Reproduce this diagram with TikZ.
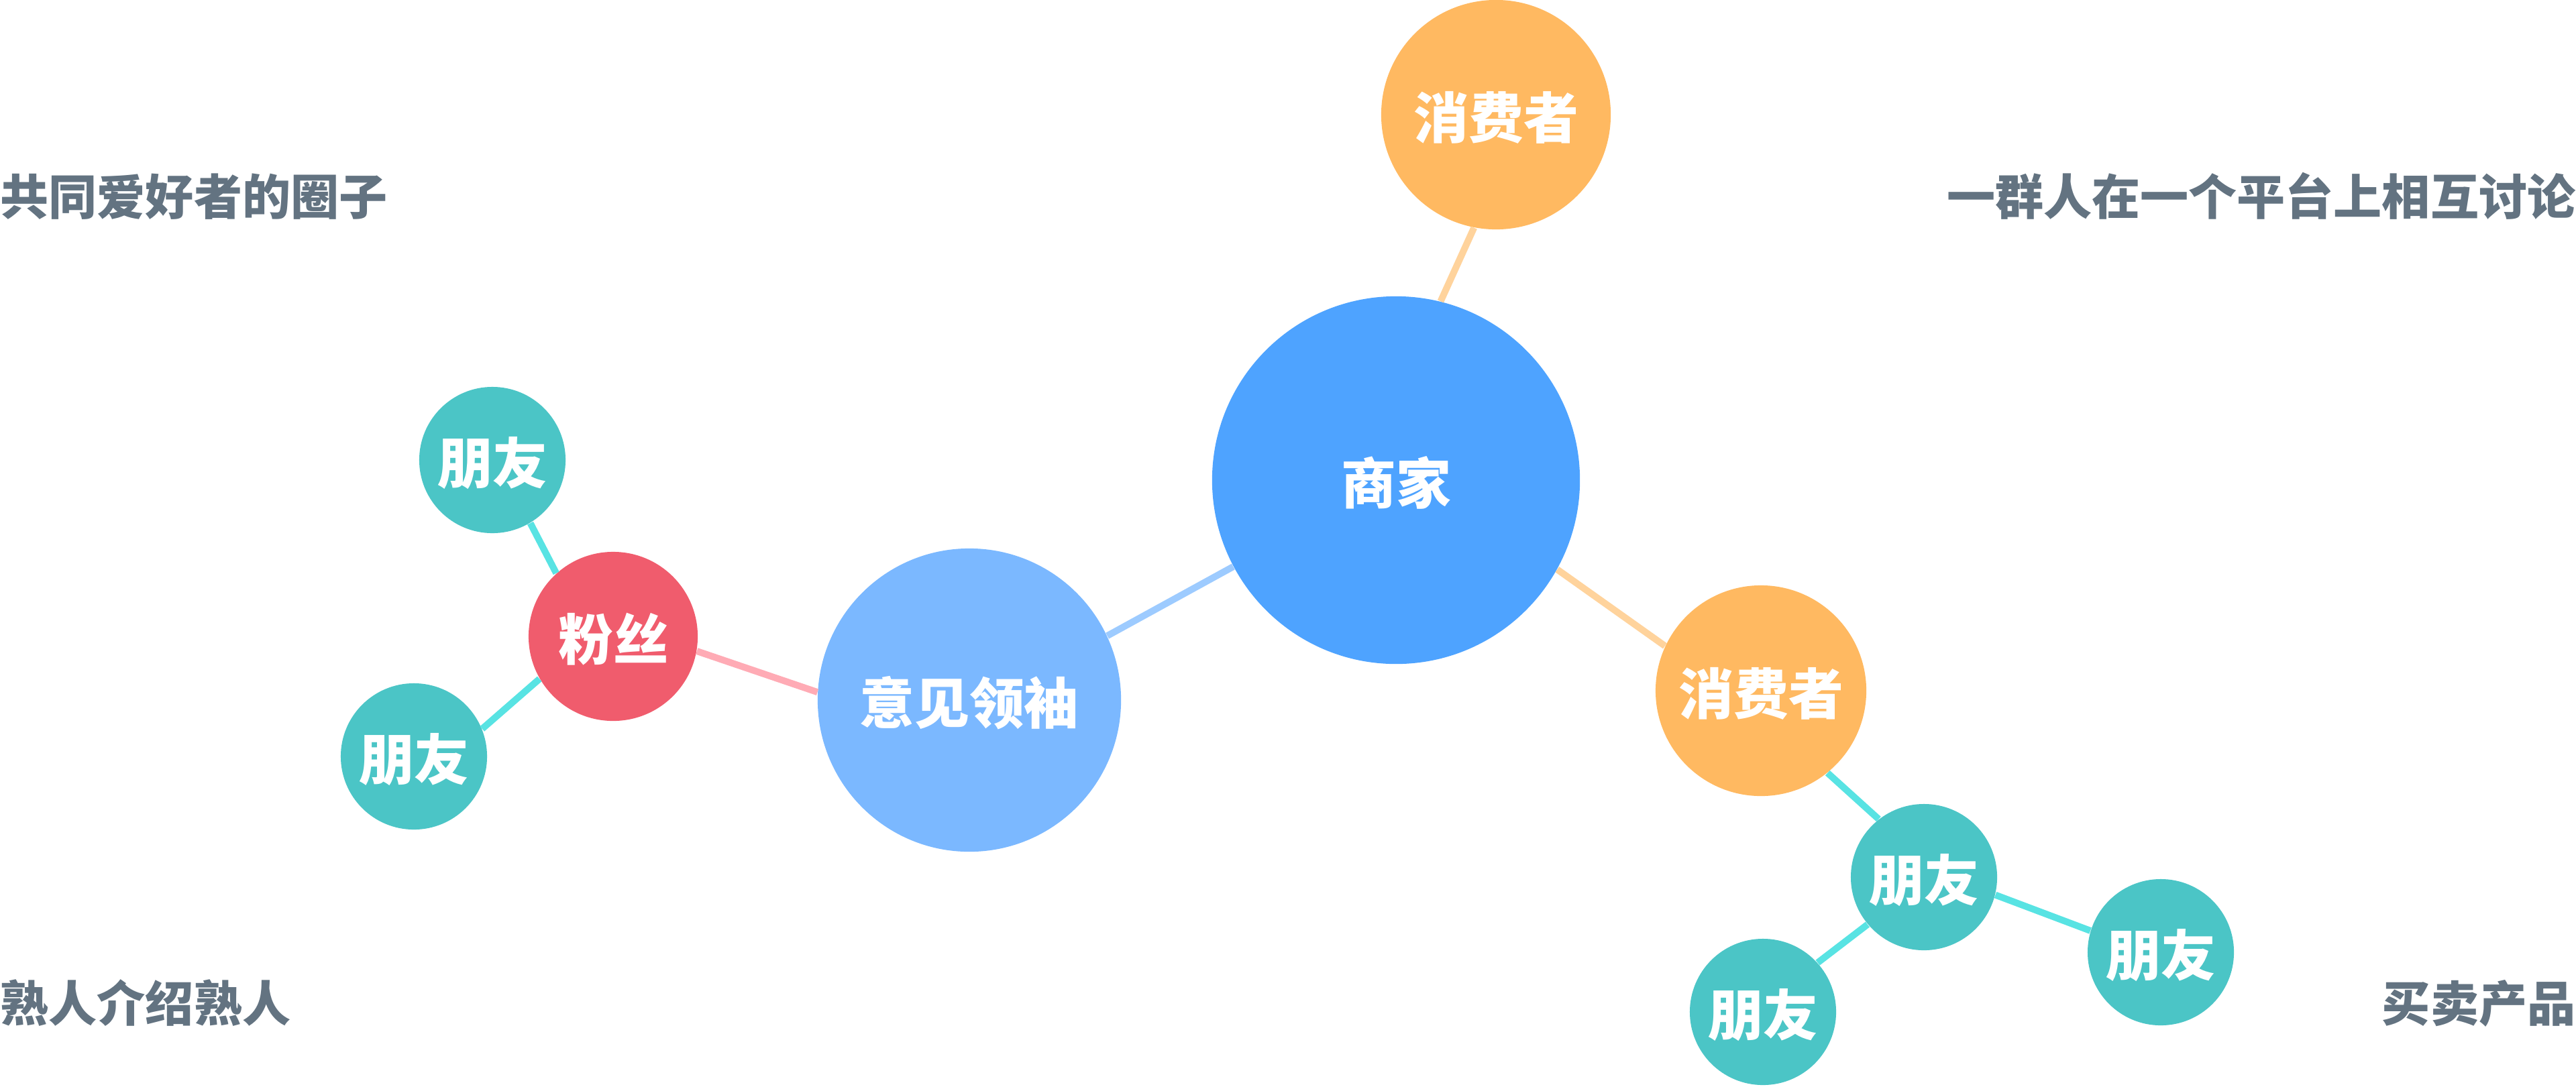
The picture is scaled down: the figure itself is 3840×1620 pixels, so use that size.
\documentclass[tikz,border=0pt]{standalone}
\usepackage{fontspec}
\usepackage{tikz}
\usepackage{xcolor}
\usetikzlibrary{
    positioning
}
\newfontfamily\cjk{Noto Sans CJK SC}

\definecolor{shangblue}{HTML}{4EA3FF}
\definecolor{yijianblue}{HTML}{7BB8FF}
\definecolor{xiaofeiorange}{HTML}{FFB961}
\definecolor{fensired}{HTML}{F05C6D}
\definecolor{pengyouteal}{HTML}{4BC5C6}
\definecolor{linkblue}{HTML}{9DCBFF}
\definecolor{linkorange}{HTML}{FFD39C}
\definecolor{linkpink}{HTML}{FFABB5}
\definecolor{linkcyan}{HTML}{58E3E3}
\definecolor{notegray}{HTML}{637381}

\begin{document}
\begin{tikzpicture}[x=0.01cm, y=-0.01cm,
        bubble/.style={circle, inner sep=0pt, text=white,
            text height=0.74cm, text depth=0.04cm,
            font=\cjk\bfseries\fontsize{23.3pt}{28pt}\selectfont},
        note/.style={inner sep=0pt, text=notegray,
            font=\cjk\bfseries\fontsize{20.5pt}{24pt}\selectfont},
        link/.style={line width=0.1cm}]
    \useasboundingbox (0, 0) rectangle (3840, 1620);

    \node[bubble, fill=shangblue, minimum size=5.48cm] (shangjia) at (2081, 716) {商家};
    \node[bubble, fill=xiaofeiorange, minimum size=3.42cm] (xiaofei1) at (2230, 171) {消费者};
    \node[bubble, fill=xiaofeiorange, minimum size=3.14cm] (xiaofei2) at (2625, 1030) {消费者};
    \node[bubble, fill=yijianblue, minimum size=4.52cm] (yijian) at (1445, 1044) {意见领袖};
    \node[bubble, fill=fensired, minimum size=2.52cm] (fensi) at (914, 949) {粉丝};
    \node[bubble, fill=pengyouteal, minimum size=2.18cm] (pengyou1) at (734, 686) {朋友};
    \node[bubble, fill=pengyouteal, minimum size=2.18cm] (pengyou2) at (617, 1128) {朋友};
    \node[bubble, fill=pengyouteal, minimum size=2.18cm] (pengyou3) at (2868, 1308) {朋友};
    \node[bubble, fill=pengyouteal, minimum size=2.18cm] (pengyou4) at (3221, 1420) {朋友};
    \node[bubble, fill=pengyouteal, minimum size=2.18cm] (pengyou5) at (2628, 1509) {朋友};

    \draw
    (shangjia.76) edge[link, linkorange] (xiaofei1.259)
    (shangjia.331) edge[link, linkorange] (xiaofei2.155)
    (shangjia.208) edge[link, linkblue] (yijian.25.5)
    (yijian.177.4) edge[link, linkpink] (fensi.350)
    (fensi.132) edge[link, linkcyan] (pengyou1.301)
    (fensi.210) edge[link, linkcyan] (pengyou2.22)
    (xiaofei2.309) edge[link, linkcyan] (pengyou3.128)
    (pengyou3.346) edge[link, linkcyan] (pengyou4.163)
    (pengyou3.220) edge[link, linkcyan] (pengyou5.42);

    \node[note, anchor=base west] (quanzi) at (0, 320) {共同爱好者的圈子};
    \node[note, anchor=base east] (pingtai) at (3840, 320) {一群人在一个平台上相互讨论};
    \node[note, anchor=base west] (shuren) at (0, 1523) {熟人介绍熟人};
    \node[note, anchor=base east] (maimai) at (3840, 1523) {买卖产品};
\end{tikzpicture}
\end{document}
